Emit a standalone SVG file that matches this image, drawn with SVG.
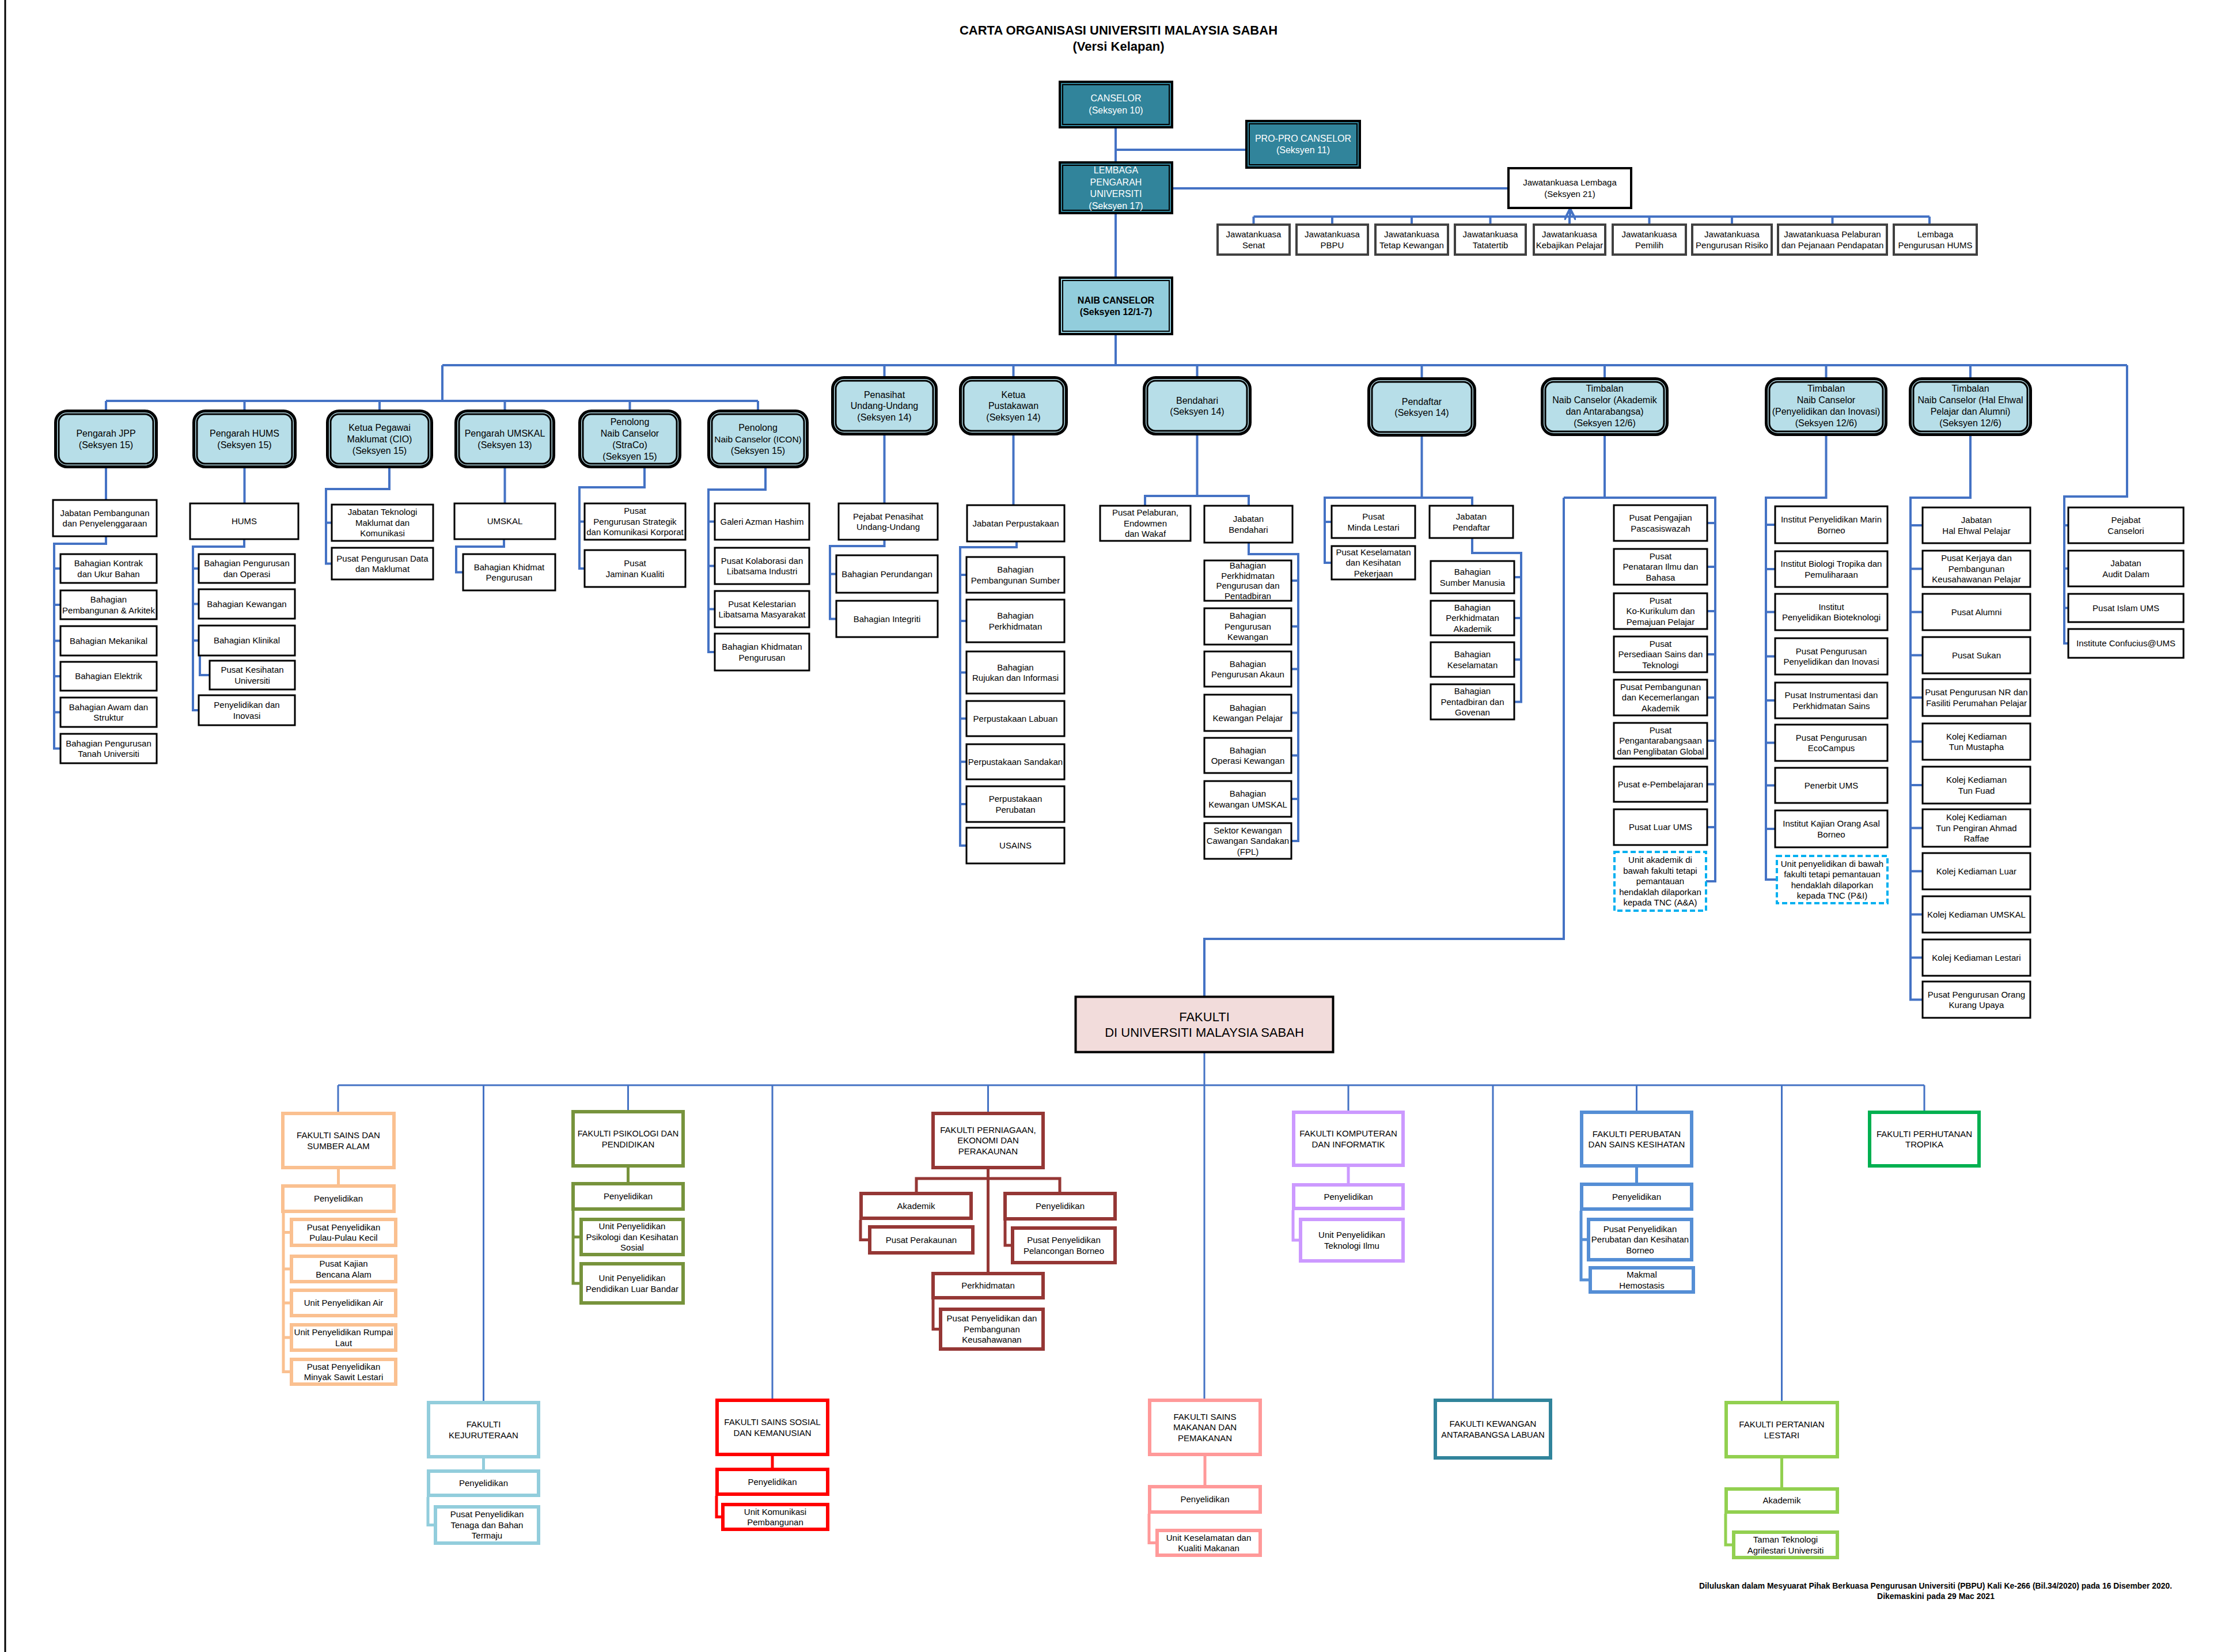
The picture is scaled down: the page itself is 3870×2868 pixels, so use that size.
<svg xmlns="http://www.w3.org/2000/svg" width="3870" height="2868" viewBox="0 0 3870 2868">
<defs>
<style>
.c{fill:none;stroke:#4472C4;stroke-width:4}
.cf{fill:none;stroke:#4472C4;stroke-width:3}
.b{fill:#fff;stroke:#000;stroke-width:3}
.bj{fill:#fff;stroke:#404040;stroke-width:4}
.dash{fill:#fff;stroke:#00B0F0;stroke-width:4;stroke-dasharray:9 5}
.t{font-family:"Liberation Sans",Arial,sans-serif;font-size:15px;text-anchor:middle;fill:#000}
.t16{font-family:"Liberation Sans",Arial,sans-serif;font-size:16px;text-anchor:middle;fill:#000}
.tw{font-family:"Liberation Sans",Arial,sans-serif;font-size:16px;text-anchor:middle;fill:#fff}
.tb{font-family:"Liberation Sans",Arial,sans-serif;font-size:16px;font-weight:bold;text-anchor:middle;fill:#000}
.l1o{fill:#B7DEE8;stroke:#000;stroke-width:5}
.l1i{fill:none;stroke:#000;stroke-width:3}
.topo{stroke:#000;stroke-width:4}
.topi{fill:none;stroke:#000;stroke-width:2}
.f{fill:#fff;stroke-width:6}
.ssa{stroke:#FAC090}.psi{stroke:#77933C}.fpe{stroke:#953735}.fki{stroke:#CC99FF}.fps{stroke:#558ED5}.fpt{stroke:#00B050}.fkj{stroke:#92CDDC}.fss{stroke:#FF0000}.fsm{stroke:#FF9999}.fkl{stroke:#31849B}.fpl{stroke:#92D050}
.fc{fill:none;stroke-width:5}
</style>
<marker id="arr" viewBox="0 0 10 10" refX="9" refY="5" markerWidth="5" markerHeight="5" orient="auto" markerUnits="strokeWidth">
<path d="M0,0 L10,5 L0,10" fill="none" stroke="#4472C4" stroke-width="2"/>
</marker>
</defs>
<rect x="0" y="0" width="3870" height="2868" fill="#fff"/>
<path d="M9,0V2868" stroke="#000" stroke-width="3"/>

<g id="title">
<text x="1942" y="60" style="font-family:'Liberation Sans',Arial,sans-serif;font-size:22px;font-weight:bold;text-anchor:middle">CARTA ORGANISASI UNIVERSITI MALAYSIA SABAH</text>
<text x="1942" y="88" style="font-family:'Liberation Sans',Arial,sans-serif;font-size:22px;font-weight:bold;text-anchor:middle">(Versi Kelapan)</text>
</g>

<g id="connectors">
<path class="c" d="M1937,223V280 M1937,260H2162 M2037,327H2619 M1937,372V480 M1937,582V634 M768,634H3693"/>
<path class="c" d="M2176.5,376H3350 M2176.5,376V390 M2313,376V390 M2451,376V390 M2587.5,376V390 M2725,376V390 M2863.5,376V390 M3007,376V390 M3181.5,376V390 M3350,376V390"/>
<path class="c" d="M2726,376V364" marker-end="url(#arr)"/>
<path class="c" d="M768,634V696 M184,696H1316 M184,696V711 M424.5,696V711 M659,696V711 M876.5,696V711 M1093.5,696V711 M1316,696V711"/>
<path class="c" d="M1535.5,634V653 M1759.5,634V653 M2078.5,634V653 M2468.5,634V655 M2786,634V655 M3170.5,634V655 M3421,634V655"/>
<path class="c" d="M184,813V868 M184,931V944H94V1299.5H105 M94,987H105 M94,1050H105 M94,1112.5H105 M94,1174H105 M94,1236.5H105"/>
<path class="c" d="M424.5,813V874 M424,936V949H335V1233H345 M335,987H345 M335,1048.5H345 M335,1112H345 M347,1138V1172H364"/>
<path class="c" d="M676,813V849H566V978.5H576 M566,907.5H576"/>
<path class="c" d="M876.5,813V874 M875,936V949H792V993.5H804"/>
<path class="c" d="M1119,813V846H1006V987H1015 M1006,905.5H1015"/>
<path class="c" d="M1329,813V850H1230V1132H1241 M1230,905.5H1241 M1230,982.5H1241 M1230,1057.5H1241"/>
<path class="c" d="M1535.5,756V874 M1535.5,937V948H1441V1074.5H1452 M1441,996.5H1452"/>
<path class="c" d="M1759.5,755V877 M1765,940V950H1667V1468H1678 M1667,998H1678 M1667,1078H1678 M1667,1167.5H1678 M1667,1247.5H1678 M1667,1322.5H1678 M1667,1396H1678"/>
<path class="c" d="M2078.5,756V861 M1988,878V861H2168V878 M2168,942V962H2254V1460H2242 M2254,1008H2242 M2254,1087.5H2242 M2254,1161.5H2242 M2254,1237.5H2242 M2254,1311.5H2242 M2254,1387H2242"/>
<path class="c" d="M2468.5,758V864 M2312,906H2300V864H2556V878 M2300,906V977H2312 M2556,934V960H2641V1218.5H2629 M2641,1002H2629 M2641,1073H2629 M2641,1145H2629"/>
<path class="c" d="M2786,757V864 M2715,864H2978V1530H2962 M2978,908H2964 M2978,984H2964 M2978,1061H2964 M2978,1136H2964 M2978,1211H2964 M2978,1286H2964 M2978,1361.5H2964 M2978,1436H2964 M2715,864V1630H2091V1729"/>
<path class="c" d="M3170.5,757V864H3066V1527H3085 M3066,911H3082 M3066,988H3082 M3066,1062.5H3082 M3066,1139.5H3082 M3066,1216H3082 M3066,1289.5H3082 M3066,1363.5H3082 M3066,1439H3082"/>
<path class="c" d="M3421,757V864H3317V1735.5H3338 M3317,912H3338 M3317,987.5H3338 M3317,1062.5H3338 M3317,1137.5H3338 M3317,1211H3338 M3317,1287.5H3338 M3317,1363H3338 M3317,1437.5H3338 M3317,1512.5H3338 M3317,1587.5H3338 M3317,1662.5H3338"/>
<path class="c" d="M3693,634V862H3584V1117H3591 M3584,912H3591 M3584,987H3591 M3584,1055.5H3591"/>
<path class="cf" d="M2091,1828V1884 M587,1884H3341 M587,1884V1930 M839.5,1884V2432 M1090.5,1884V1927 M1341,1884V2428 M1715.5,1884V1930 M2091,1884V2428 M2341,1884V1928 M2592,1884V2428 M2841.5,1884V1928 M3093.5,1884V2432 M3341,1884V1928"/>
<path class="fc ssa" d="M587.5,2030V2056 M492,2106V2381.5H503 M492,2139.5H503 M492,2203H503 M492,2262H503 M492,2322H503"/>
<path class="fc psi" d="M1090.5,2027V2052 M995,2102V2228H1006 M995,2147.5H1006"/>
<path class="fc fpe" d="M1715.5,2030V2208 M1591,2069V2046H1840V2069 M1494,2118V2152.5H1507 M1745,2119V2162H1755 M1620,2256V2307.5H1630"/>
<path class="fc fki" d="M2341,2026V2054 M2245,2101V2153H2255"/>
<path class="fc fps" d="M2841.5,2027V2053 M2745,2102V2222H2758 M2745,2152H2755"/>
<path class="fc fkj" d="M839.5,2532V2551 M743,2599V2647.5H753"/>
<path class="fc fss" d="M1341,2528V2548 M1244,2597V2633.5H1252"/>
<path class="fc fsm" d="M2092,2528V2578 M1995,2628V2678.5H2006"/>
<path class="fc fpl" d="M3093.5,2532V2582 M2996,2628V2682H3007"/>
</g>

<g id="canselor">
<rect class="topo" x="1840" y="142" width="195" height="79" fill="#31849B"/>
<rect class="topi" x="1845" y="147" width="185" height="69"/>
<text class="tw"><tspan x="1937.5" y="175.5">CANSELOR</tspan><tspan x="1937.5" y="196.5">(Seksyen 10)</tspan></text>
</g>
<g id="propro">
<rect class="topo" x="2164" y="210" width="197" height="81" fill="#31849B"/>
<rect class="topi" x="2169" y="215" width="187" height="71"/>
<text class="tw"><tspan x="2262.5" y="246.3">PRO-PRO CANSELOR</tspan><tspan x="2262.5" y="266.3">(Seksyen 11)</tspan></text>
</g>
<g id="lembaga">
<rect class="topo" x="1840" y="282" width="195" height="88" fill="#31849B"/>
<rect class="topi" x="1845" y="287" width="185" height="78"/>
<text class="tw"><tspan x="1937.5" y="301">LEMBAGA</tspan><tspan x="1937.5" y="321.5">PENGARAH</tspan><tspan x="1937.5" y="342">UNIVERSITI</tspan><tspan x="1937.5" y="362.5">(Seksyen 17)</tspan></text>
</g>
<g id="jk-lembaga">
<rect x="2619" y="292" width="213" height="69" fill="#fff" stroke="#000" stroke-width="4"/>
<text class="t"><tspan x="2725.5" y="322.2">Jawatankuasa Lembaga</tspan><tspan x="2725.5" y="341.6">(Seksyen 21)</tspan></text>
</g>
<g id="committees">
<rect class="bj" x="2114" y="390" width="125" height="52"/><text class="t"><tspan x="2176.5" y="412.2">Jawatankuasa</tspan><tspan x="2176.5" y="430.7">Senat</tspan></text>
<rect class="bj" x="2251" y="390" width="124" height="52"/><text class="t"><tspan x="2313" y="412.2">Jawatankuasa</tspan><tspan x="2313" y="430.7">PBPU</tspan></text>
<rect class="bj" x="2388" y="390" width="126" height="52"/><text class="t"><tspan x="2451" y="412.2">Jawatankuasa</tspan><tspan x="2451" y="430.7">Tetap Kewangan</tspan></text>
<rect class="bj" x="2526" y="390" width="123" height="52"/><text class="t"><tspan x="2587.5" y="412.2">Jawatankuasa</tspan><tspan x="2587.5" y="430.7">Tatatertib</tspan></text>
<rect class="bj" x="2663" y="390" width="124" height="52"/><text class="t"><tspan x="2725" y="412.2">Jawatankuasa</tspan><tspan x="2725" y="430.7">Kebajikan Pelajar</tspan></text>
<rect class="bj" x="2800" y="390" width="127" height="52"/><text class="t"><tspan x="2863.5" y="412.2">Jawatankuasa</tspan><tspan x="2863.5" y="430.7">Pemilih</tspan></text>
<rect class="bj" x="2938" y="390" width="138" height="52"/><text class="t"><tspan x="3007" y="412.2">Jawatankuasa</tspan><tspan x="3007" y="430.7">Pengurusan Risiko</tspan></text>
<rect class="bj" x="3087" y="390" width="189" height="52"/><text class="t"><tspan x="3181.5" y="412.2">Jawatankuasa Pelaburan</tspan><tspan x="3181.5" y="430.7">dan Pejanaan Pendapatan</tspan></text>
<rect class="bj" x="3288" y="390" width="144" height="52"/><text class="t"><tspan x="3360" y="412.2">Lembaga</tspan><tspan x="3360" y="430.7">Pengurusan  HUMS</tspan></text>
</g>
<g id="naib-canselor">
<rect class="topo" x="1840" y="482" width="195" height="98" fill="#92CDDC"/>
<rect class="topi" x="1845" y="487" width="185" height="88"/>
<text class="tb"><tspan x="1937.5" y="526.8">NAIB CANSELOR</tspan><tspan x="1937.5" y="546.8">(Seksyen 12/1-7)</tspan></text>
</g>

<g id="pengarah-jpp">
<rect class="l1o" x="96.5" y="713.5" width="175" height="97" rx="20"/><rect class="l1i" x="102" y="719" width="164" height="86" rx="14"/>
<text class="t16"><tspan x="184" y="757.8">Pengarah JPP</tspan><tspan x="184" y="777.8">(Seksyen 15)</tspan></text>
<rect class="b" x="92" y="868" width="180" height="63"/><text class="t"><tspan x="182" y="895.65">Jabatan Pembangunan</tspan><tspan x="182" y="914.15">dan Penyelenggaraan</tspan></text>
<rect class="b" x="105" y="962" width="167" height="50"/><text class="t"><tspan x="188.5" y="983.15">Bahagian Kontrak</tspan><tspan x="188.5" y="1001.65">dan Ukur Bahan</tspan></text>
<rect class="b" x="105" y="1025" width="167" height="50"/><text class="t"><tspan x="188.5" y="1046.15">Bahagian</tspan><tspan x="188.5" y="1064.65">Pembangunan &amp; Arkitek</tspan></text>
<rect class="b" x="105" y="1087" width="167" height="51"/><text class="t" x="188.5" y="1117.9">Bahagian Mekanikal</text>
<rect class="b" x="105" y="1149" width="167" height="50"/><text class="t" x="188.5" y="1179.4">Bahagian Elektrik</text>
<rect class="b" x="105" y="1211" width="167" height="51"/><text class="t"><tspan x="188.5" y="1232.65">Bahagian Awam dan</tspan><tspan x="188.5" y="1251.15">Struktur</tspan></text>
<rect class="b" x="105" y="1274" width="167" height="51"/><text class="t"><tspan x="188.5" y="1295.65">Bahagian Pengurusan</tspan><tspan x="188.5" y="1314.15">Tanah Universiti</tspan></text>
</g>

<g id="pengarah-hums">
<rect class="l1o" x="336.5" y="713.5" width="176" height="97" rx="20"/><rect class="l1i" x="342" y="719" width="165" height="86" rx="14"/>
<text class="t16"><tspan x="424.5" y="757.8">Pengarah HUMS</tspan><tspan x="424.5" y="777.8">(Seksyen 15)</tspan></text>
<rect class="b" x="330" y="874" width="188" height="62"/><text class="t" x="424" y="910.4">HUMS</text>
<rect class="b" x="345" y="962" width="167" height="50"/><text class="t"><tspan x="428.5" y="983.15">Bahagian Pengurusan</tspan><tspan x="428.5" y="1001.65">dan Operasi</tspan></text>
<rect class="b" x="345" y="1023" width="167" height="51"/><text class="t" x="428.5" y="1053.9">Bahagian Kewangan</text>
<rect class="b" x="345" y="1086" width="167" height="52"/><text class="t" x="428.5" y="1117.4">Bahagian Klinikal</text>
<rect class="b" x="364" y="1147" width="148" height="50"/><text class="t"><tspan x="438" y="1168.15">Pusat Kesihatan</tspan><tspan x="438" y="1186.65">Universiti</tspan></text>
<rect class="b" x="345" y="1207" width="167" height="52"/><text class="t"><tspan x="428.5" y="1229.15">Penyelidikan dan</tspan><tspan x="428.5" y="1247.65">Inovasi</tspan></text>
</g>

<g id="ketua-cio">
<rect class="l1o" x="568.5" y="713.5" width="181" height="97" rx="20"/><rect class="l1i" x="574" y="719" width="170" height="86" rx="14"/>
<text class="t16"><tspan x="659" y="747.8">Ketua Pegawai</tspan><tspan x="659" y="767.8">Maklumat (CIO)</tspan><tspan x="659" y="787.8">(Seksyen 15)</tspan></text>
<rect class="b" x="576" y="876" width="176" height="63"/><text class="t"><tspan x="664" y="894.4">Jabatan Teknologi</tspan><tspan x="664" y="912.9">Maklumat dan</tspan><tspan x="664" y="931.4">Komunikasi</tspan></text>
<rect class="b" x="576" y="951" width="176" height="55"/><text class="t"><tspan x="664" y="974.65">Pusat Pengurusan Data</tspan><tspan x="664" y="993.15">dan Maklumat</tspan></text>
</g>

<g id="pengarah-umskal">
<rect class="l1o" x="791.5" y="713.5" width="170" height="97" rx="20"/><rect class="l1i" x="797" y="719" width="159" height="86" rx="14"/>
<text class="t16"><tspan x="876.5" y="757.8">Pengarah UMSKAL</tspan><tspan x="876.5" y="777.8">(Seksyen 13)</tspan></text>
<rect class="b" x="789" y="874" width="175" height="62"/><text class="t" x="876.5" y="910.4">UMSKAL</text>
<rect class="b" x="804" y="962" width="160" height="63"/><text class="t"><tspan x="884" y="989.65">Bahagian Khidmat</tspan><tspan x="884" y="1008.15">Pengurusan</tspan></text>
</g>

<g id="tnc-straco">
<rect class="l1o" x="1006.5" y="713.5" width="174" height="97" rx="20"/><rect class="l1i" x="1012" y="719" width="163" height="86" rx="14"/>
<text class="t16"><tspan x="1093.5" y="737.8">Penolong</tspan><tspan x="1093.5" y="757.8">Naib Canselor</tspan><tspan x="1093.5" y="777.8">(StraCo)</tspan><tspan x="1093.5" y="797.8">(Seksyen 15)</tspan></text>
<rect class="b" x="1015" y="874" width="175" height="63"/><text class="t"><tspan x="1102.5" y="892.4">Pusat</tspan><tspan x="1102.5" y="910.9">Pengurusan Strategik</tspan><tspan x="1102.5" y="929.4">dan Komunikasi Korporat</tspan></text>
<rect class="b" x="1015" y="955" width="175" height="64"/><text class="t"><tspan x="1102.5" y="983.15">Pusat</tspan><tspan x="1102.5" y="1001.65">Jaminan Kualiti</tspan></text>
</g>

<g id="pnc-icon">
<rect class="l1o" x="1230.5" y="713.5" width="171" height="97" rx="20"/><rect class="l1i" x="1236" y="719" width="160" height="86" rx="14"/>
<text class="t16"><tspan x="1316" y="747.8">Penolong</tspan><tspan x="1316" y="767.8" style="font-size:15.5px">Naib Canselor (ICON)</tspan><tspan x="1316" y="787.8">(Seksyen 15)</tspan></text>
<rect class="b" x="1241" y="874" width="164" height="63"/><text class="t" x="1323" y="910.9">Galeri Azman Hashim</text>
<rect class="b" x="1241" y="951" width="164" height="63"/><text class="t"><tspan x="1323" y="978.65">Pusat Kolaborasi dan</tspan><tspan x="1323" y="997.15">Libatsama Industri</tspan></text>
<rect class="b" x="1241" y="1026" width="164" height="63"/><text class="t"><tspan x="1323" y="1053.65">Pusat Kelestarian</tspan><tspan x="1323" y="1072.15">Libatsama Masyarakat</tspan></text>
<rect class="b" x="1241" y="1100" width="164" height="64"/><text class="t"><tspan x="1323" y="1128.15">Bahagian Khidmatan</tspan><tspan x="1323" y="1146.65">Pengurusan</tspan></text>
</g>

<g id="penasihat">
<rect class="l1o" x="1445.5" y="655.5" width="180" height="98" rx="20"/><rect class="l1i" x="1451" y="661" width="169" height="87" rx="14"/>
<text class="t16"><tspan x="1535.5" y="690.8">Penasihat</tspan><tspan x="1535.5" y="710.3">Undang-Undang</tspan><tspan x="1535.5" y="729.8">(Seksyen 14)</tspan></text>
<rect class="b" x="1456" y="874" width="172" height="63"/><text class="t"><tspan x="1542" y="901.65">Pejabat Penasihat</tspan><tspan x="1542" y="920.15">Undang-Undang</tspan></text>
<rect class="b" x="1452" y="964" width="176" height="65"/><text class="t" x="1540" y="1001.9">Bahagian Perundangan</text>
<rect class="b" x="1452" y="1043" width="176" height="63"/><text class="t" x="1540" y="1079.9">Bahagian Integriti</text>
</g>

<g id="pustakawan">
<rect class="l1o" x="1667.5" y="655.5" width="184" height="98" rx="20"/><rect class="l1i" x="1673" y="661" width="173" height="87" rx="14"/>
<text class="t16"><tspan x="1759.5" y="690.8">Ketua</tspan><tspan x="1759.5" y="710.3">Pustakawan</tspan><tspan x="1759.5" y="729.8">(Seksyen 14)</tspan></text>
<rect class="b" x="1679" y="877" width="169" height="63"/><text class="t" x="1763.5" y="913.9">Jabatan Perpustakaan</text>
<rect class="b" x="1678" y="967" width="170" height="62"/><text class="t"><tspan x="1763" y="994.15">Bahagian</tspan><tspan x="1763" y="1012.65">Pembangunan Sumber</tspan></text>
<rect class="b" x="1678" y="1041" width="170" height="74"/><text class="t"><tspan x="1763" y="1074.15">Bahagian</tspan><tspan x="1763" y="1092.65">Perkhidmatan</tspan></text>
<rect class="b" x="1678" y="1131" width="170" height="73"/><text class="t"><tspan x="1763" y="1163.65">Bahagian</tspan><tspan x="1763" y="1182.15">Rujukan dan Informasi</tspan></text>
<rect class="b" x="1678" y="1217" width="170" height="61"/><text class="t" x="1763" y="1252.9">Perpustakaan Labuan</text>
<rect class="b" x="1678" y="1292" width="170" height="61"/><text class="t" x="1763" y="1327.9">Perpustakaan Sandakan</text>
<rect class="b" x="1678" y="1365" width="170" height="62"/><text class="t"><tspan x="1763" y="1392.15">Perpustakaan</tspan><tspan x="1763" y="1410.65">Perubatan</tspan></text>
<rect class="b" x="1678" y="1437" width="170" height="62"/><text class="t" x="1763" y="1473.4">USAINS</text>
</g>

<g id="bendahari">
<rect class="l1o" x="1986.5" y="655.5" width="184" height="98" rx="20"/><rect class="l1i" x="1992" y="661" width="173" height="87" rx="14"/>
<text class="t16"><tspan x="2078.5" y="700.5">Bendahari</tspan><tspan x="2078.5" y="720">(Seksyen 14)</tspan></text>
<rect class="b" x="1910" y="878" width="157" height="61"/><text class="t"><tspan x="1988.5" y="895.4">Pusat Pelaburan,</tspan><tspan x="1988.5" y="913.9">Endowmen</tspan><tspan x="1988.5" y="932.4">dan Wakaf</tspan></text>
<rect class="b" x="2091" y="878" width="153" height="64"/><text class="t"><tspan x="2167.5" y="906.15">Jabatan</tspan><tspan x="2167.5" y="924.65">Bendahari</tspan></text>
<rect class="b" x="2091" y="973" width="151" height="70"/><text class="t"><tspan x="2166.5" y="987.15">Bahagian</tspan><tspan x="2166.5" y="1004.65">Perkhidmatan</tspan><tspan x="2166.5" y="1022.15">Pengurusan dan</tspan><tspan x="2166.5" y="1039.65">Pentadbiran</tspan></text>
<rect class="b" x="2091" y="1056" width="151" height="63"/><text class="t"><tspan x="2166.5" y="1074.4">Bahagian</tspan><tspan x="2166.5" y="1092.9">Pengurusan</tspan><tspan x="2166.5" y="1111.4">Kewangan</tspan></text>
<rect class="b" x="2091" y="1131" width="151" height="61"/><text class="t"><tspan x="2166.5" y="1157.65">Bahagian</tspan><tspan x="2166.5" y="1176.15">Pengurusan Akaun</tspan></text>
<rect class="b" x="2091" y="1206" width="151" height="63"/><text class="t"><tspan x="2166.5" y="1233.65">Bahagian</tspan><tspan x="2166.5" y="1252.15">Kewangan Pelajar</tspan></text>
<rect class="b" x="2091" y="1281" width="151" height="61"/><text class="t"><tspan x="2166.5" y="1307.65">Bahagian</tspan><tspan x="2166.5" y="1326.15">Operasi Kewangan</tspan></text>
<rect class="b" x="2091" y="1356" width="151" height="62"/><text class="t"><tspan x="2166.5" y="1383.15">Bahagian</tspan><tspan x="2166.5" y="1401.65">Kewangan UMSKAL</tspan></text>
<rect class="b" x="2091" y="1429" width="151" height="62"/><text class="t"><tspan x="2166.5" y="1446.9">Sektor Kewangan</tspan><tspan x="2166.5" y="1465.4">Cawangan Sandakan</tspan><tspan x="2166.5" y="1483.9">(FPL)</tspan></text>
</g>

<g id="pendaftar">
<rect class="l1o" x="2376.5" y="657.5" width="184" height="98" rx="20"/><rect class="l1i" x="2382" y="663" width="173" height="87" rx="14"/>
<text class="t16"><tspan x="2468.5" y="702.5">Pendaftar</tspan><tspan x="2468.5" y="722">(Seksyen 14)</tspan></text>
<rect class="b" x="2312" y="878" width="145" height="56"/><text class="t"><tspan x="2384.5" y="902.15">Pusat</tspan><tspan x="2384.5" y="920.65">Minda Lestari</tspan></text>
<rect class="b" x="2312" y="948" width="145" height="58"/><text class="t"><tspan x="2384.5" y="963.9">Pusat Keselamatan</tspan><tspan x="2384.5" y="982.4">dan Kesihatan</tspan><tspan x="2384.5" y="1000.9">Pekerjaan</tspan></text>
<rect class="b" x="2482" y="878" width="145" height="56"/><text class="t"><tspan x="2554.5" y="902.15">Jabatan</tspan><tspan x="2554.5" y="920.65">Pendaftar</tspan></text>
<rect class="b" x="2484" y="974" width="145" height="56"/><text class="t"><tspan x="2556.5" y="998.15">Bahagian</tspan><tspan x="2556.5" y="1016.65">Sumber Manusia</tspan></text>
<rect class="b" x="2484" y="1043" width="145" height="60"/><text class="t"><tspan x="2556.5" y="1059.9">Bahagian</tspan><tspan x="2556.5" y="1078.4">Perkhidmatan</tspan><tspan x="2556.5" y="1096.9">Akademik</tspan></text>
<rect class="b" x="2484" y="1115" width="145" height="60"/><text class="t"><tspan x="2556.5" y="1141.15">Bahagian</tspan><tspan x="2556.5" y="1159.65">Keselamatan</tspan></text>
<rect class="b" x="2484" y="1188" width="145" height="61"/><text class="t"><tspan x="2556.5" y="1205.4">Bahagian</tspan><tspan x="2556.5" y="1223.9">Pentadbiran dan</tspan><tspan x="2556.5" y="1242.4">Govenan</tspan></text>
</g>

<g id="tnc-aa">
<rect class="l1o" x="2677.5" y="657.5" width="217" height="97" rx="20"/><rect class="l1i" x="2683" y="663" width="206" height="86" rx="14"/>
<text class="t16"><tspan x="2786" y="680.3">Timbalan</tspan><tspan x="2786" y="700.3">Naib Canselor (Akademik</tspan><tspan x="2786" y="720.3">dan Antarabangsa)</tspan><tspan x="2786" y="740.3">(Seksyen 12/6)</tspan></text>
<rect class="b" x="2802" y="877" width="162" height="62"/><text class="t"><tspan x="2883" y="904.15">Pusat Pengajian</tspan><tspan x="2883" y="922.65">Pascasiswazah</tspan></text>
<rect class="b" x="2802" y="953" width="162" height="62"/><text class="t"><tspan x="2883" y="970.9">Pusat</tspan><tspan x="2883" y="989.4">Penataran Ilmu dan</tspan><tspan x="2883" y="1007.9">Bahasa</tspan></text>
<rect class="b" x="2802" y="1030" width="162" height="62"/><text class="t"><tspan x="2883" y="1047.9">Pusat</tspan><tspan x="2883" y="1066.4">Ko-Kurikulum dan</tspan><tspan x="2883" y="1084.9">Pemajuan Pelajar</tspan></text>
<rect class="b" x="2802" y="1105" width="162" height="62"/><text class="t"><tspan x="2883" y="1122.9">Pusat</tspan><tspan x="2883" y="1141.4">Persediaan Sains dan</tspan><tspan x="2883" y="1159.9">Teknologi</tspan></text>
<rect class="b" x="2802" y="1180" width="162" height="62"/><text class="t"><tspan x="2883" y="1197.9">Pusat Pembangunan</tspan><tspan x="2883" y="1216.4">dan Kecemerlangan</tspan><tspan x="2883" y="1234.9">Akademik</tspan></text>
<rect class="b" x="2802" y="1255" width="162" height="62"/><text class="t"><tspan x="2883" y="1272.9">Pusat</tspan><tspan x="2883" y="1291.4">Pengantarabangsaan</tspan><tspan x="2883" y="1309.9" style="font-size:14.5px">dan Penglibatan Global</tspan></text>
<rect class="b" x="2802" y="1331" width="162" height="61"/><text class="t" x="2883" y="1366.9">Pusat e-Pembelajaran</text>
<rect class="b" x="2802" y="1405" width="162" height="62"/><text class="t" x="2883" y="1441.4">Pusat Luar UMS</text>
<rect class="dash" x="2803" y="1479" width="159" height="102"/><text class="t"><tspan x="2882.5" y="1498.4">Unit akademik di</tspan><tspan x="2882.5" y="1516.9">bawah fakulti tetapi</tspan><tspan x="2882.5" y="1535.4">pemantauan</tspan><tspan x="2882.5" y="1553.9">hendaklah dilaporkan</tspan><tspan x="2882.5" y="1572.4">kepada TNC (A&amp;A)</tspan></text>
</g>

<g id="tnc-pi">
<rect class="l1o" x="3066.5" y="657.5" width="208" height="97" rx="20"/><rect class="l1i" x="3072" y="663" width="197" height="86" rx="14"/>
<text class="t16"><tspan x="3170.5" y="680.3">Timbalan</tspan><tspan x="3170.5" y="700.3">Naib Canselor</tspan><tspan x="3170.5" y="720.3">(Penyelidikan dan Inovasi)</tspan><tspan x="3170.5" y="740.3">(Seksyen 12/6)</tspan></text>
<rect class="b" x="3082" y="879" width="195" height="64"/><text class="t"><tspan x="3179.5" y="907.15">Institut Penyelidikan Marin</tspan><tspan x="3179.5" y="925.65">Borneo</tspan></text>
<rect class="b" x="3082" y="957" width="195" height="62"/><text class="t"><tspan x="3179.5" y="984.15">Institut Biologi Tropika dan</tspan><tspan x="3179.5" y="1002.65">Pemuliharaan</tspan></text>
<rect class="b" x="3082" y="1031" width="195" height="63"/><text class="t"><tspan x="3179.5" y="1058.65">Institut</tspan><tspan x="3179.5" y="1077.15">Penyelidikan Bioteknologi</tspan></text>
<rect class="b" x="3082" y="1108" width="195" height="63"/><text class="t"><tspan x="3179.5" y="1135.65">Pusat Pengurusan</tspan><tspan x="3179.5" y="1154.15">Penyelidikan dan Inovasi</tspan></text>
<rect class="b" x="3082" y="1185" width="195" height="62"/><text class="t"><tspan x="3179.5" y="1212.15">Pusat Instrumentasi dan</tspan><tspan x="3179.5" y="1230.65">Perkhidmatan Sains</tspan></text>
<rect class="b" x="3082" y="1258" width="195" height="63"/><text class="t"><tspan x="3179.5" y="1285.65">Pusat Pengurusan</tspan><tspan x="3179.5" y="1304.15">EcoCampus</tspan></text>
<rect class="b" x="3082" y="1333" width="195" height="61"/><text class="t" x="3179.5" y="1368.9">Penerbit UMS</text>
<rect class="b" x="3082" y="1407" width="195" height="64"/><text class="t"><tspan x="3179.5" y="1435.15">Institut Kajian Orang Asal</tspan><tspan x="3179.5" y="1453.65">Borneo</tspan></text>
<rect class="dash" x="3085" y="1486" width="192" height="82"/><text class="t"><tspan x="3181" y="1504.65">Unit penyelidikan di bawah</tspan><tspan x="3181" y="1523.15">fakulti tetapi pemantauan</tspan><tspan x="3181" y="1541.65">hendaklah dilaporkan</tspan><tspan x="3181" y="1560.15">kepada TNC (P&amp;I)</tspan></text>
</g>

<g id="tnc-hep">
<rect class="l1o" x="3316.5" y="657.5" width="209" height="97" rx="20"/><rect class="l1i" x="3322" y="663" width="198" height="86" rx="14"/>
<text class="t16"><tspan x="3421" y="680.3">Timbalan</tspan><tspan x="3421" y="700.3">Naib Canselor (Hal Ehwal</tspan><tspan x="3421" y="720.3">Pelajar dan Alumni)</tspan><tspan x="3421" y="740.3">(Seksyen 12/6)</tspan></text>
<rect class="b" x="3338" y="881" width="187" height="62"/><text class="t"><tspan x="3431.5" y="908.15">Jabatan</tspan><tspan x="3431.5" y="926.65">Hal Ehwal Pelajar</tspan></text>
<rect class="b" x="3338" y="956" width="187" height="63"/><text class="t"><tspan x="3431.5" y="974.4">Pusat Kerjaya dan</tspan><tspan x="3431.5" y="992.9">Pembangunan</tspan><tspan x="3431.5" y="1011.4">Keusahawanan Pelajar</tspan></text>
<rect class="b" x="3338" y="1031" width="187" height="63"/><text class="t" x="3431.5" y="1067.9">Pusat Alumni</text>
<rect class="b" x="3338" y="1106" width="187" height="63"/><text class="t" x="3431.5" y="1142.9">Pusat Sukan</text>
<rect class="b" x="3338" y="1179" width="187" height="64"/><text class="t"><tspan x="3431.5" y="1207.15">Pusat Pengurusan NR dan</tspan><tspan x="3431.5" y="1225.65">Fasiliti Perumahan Pelajar</tspan></text>
<rect class="b" x="3338" y="1256" width="187" height="63"/><text class="t"><tspan x="3431.5" y="1283.65">Kolej Kediaman</tspan><tspan x="3431.5" y="1302.15">Tun Mustapha</tspan></text>
<rect class="b" x="3338" y="1331" width="187" height="64"/><text class="t"><tspan x="3431.5" y="1359.15">Kolej Kediaman</tspan><tspan x="3431.5" y="1377.65">Tun Fuad</tspan></text>
<rect class="b" x="3338" y="1405" width="187" height="65"/><text class="t"><tspan x="3431.5" y="1424.4">Kolej Kediaman</tspan><tspan x="3431.5" y="1442.9">Tun Pengiran Ahmad</tspan><tspan x="3431.5" y="1461.4">Raffae</tspan></text>
<rect class="b" x="3338" y="1481" width="187" height="63"/><text class="t" x="3431.5" y="1517.9">Kolej Kediaman Luar</text>
<rect class="b" x="3338" y="1556" width="187" height="63"/><text class="t" x="3431.5" y="1592.9">Kolej Kediaman UMSKAL</text>
<rect class="b" x="3338" y="1631" width="187" height="63"/><text class="t" x="3431.5" y="1667.9">Kolej Kediaman Lestari</text>
<rect class="b" x="3338" y="1704" width="187" height="63"/><text class="t"><tspan x="3431.5" y="1731.65">Pusat Pengurusan Orang</tspan><tspan x="3431.5" y="1750.15">Kurang Upaya</tspan></text>
</g>

<g id="pejabat-nc">
<rect class="b" x="3591" y="881" width="200" height="62"/><text class="t"><tspan x="3691" y="908.15">Pejabat</tspan><tspan x="3691" y="926.65">Canselori</tspan></text>
<rect class="b" x="3591" y="956" width="200" height="62"/><text class="t"><tspan x="3691" y="983.15">Jabatan</tspan><tspan x="3691" y="1001.65">Audit Dalam</tspan></text>
<rect class="b" x="3591" y="1031" width="200" height="49"/><text class="t" x="3691" y="1060.9">Pusat Islam UMS</text>
<rect class="b" x="3591" y="1092" width="200" height="50"/><text class="t" x="3691" y="1122.4">Institute Confucius@UMS</text>
</g>

<g id="fakulti">
<rect x="1867.5" y="1730.5" width="447" height="96" fill="#F2DCDB" stroke="#000" stroke-width="4"/>
<text style="font-family:'Liberation Sans',Arial,sans-serif;font-size:22px;text-anchor:middle"><tspan x="2091" y="1772.7">FAKULTI</tspan><tspan x="2091" y="1800">DI UNIVERSITI MALAYSIA SABAH</tspan></text>
</g>

<g id="f-ssa">
<rect class="f ssa" x="491" y="1933" width="193" height="94"/><text class="t"><tspan x="587.5" y="1976.15">FAKULTI SAINS DAN</tspan><tspan x="587.5" y="1994.65">SUMBER ALAM</tspan></text>
<rect class="f ssa" x="491" y="2059" width="193" height="44"/><text class="t" x="587.5" y="2086.4">Penyelidikan</text>
<rect class="f ssa" x="506" y="2117" width="181" height="45"/><text class="t"><tspan x="596.5" y="2135.65">Pusat Penyelidikan</tspan><tspan x="596.5" y="2154.15">Pulau-Pulau Kecil</tspan></text>
<rect class="f ssa" x="506" y="2181" width="181" height="44"/><text class="t"><tspan x="596.5" y="2199.15">Pusat Kajian</tspan><tspan x="596.5" y="2217.65">Bencana Alam</tspan></text>
<rect class="f ssa" x="506" y="2240" width="181" height="44"/><text class="t" x="596.5" y="2267.4">Unit Penyelidikan Air</text>
<rect class="f ssa" x="506" y="2300" width="181" height="44"/><text class="t"><tspan x="596.5" y="2318.15">Unit Penyelidikan Rumpai</tspan><tspan x="596.5" y="2336.65">Laut</tspan></text>
<rect class="f ssa" x="506" y="2360" width="181" height="43"/><text class="t"><tspan x="596.5" y="2377.65">Pusat Penyelidikan</tspan><tspan x="596.5" y="2396.15">Minyak Sawit Lestari</tspan></text>
</g>

<g id="f-psikologi">
<rect class="f psi" x="995" y="1930" width="191" height="94"/><text class="t"><tspan x="1090.5" y="1973.15" style="font-size:14.5px">FAKULTI PSIKOLOGI DAN</tspan><tspan x="1090.5" y="1991.65">PENDIDIKAN</tspan></text>
<rect class="f psi" x="995" y="2055" width="191" height="44"/><text class="t" x="1090.5" y="2082.4">Penyelidikan</text>
<rect class="f psi" x="1009" y="2117" width="177" height="61"/><text class="t"><tspan x="1097.5" y="2134.4">Unit Penyelidikan</tspan><tspan x="1097.5" y="2152.9">Psikologi dan Kesihatan</tspan><tspan x="1097.5" y="2171.4">Sosial</tspan></text>
<rect class="f psi" x="1009" y="2194" width="177" height="68"/><text class="t"><tspan x="1097.5" y="2224.15">Unit Penyelidikan</tspan><tspan x="1097.5" y="2242.65">Pendidikan Luar Bandar</tspan></text>
</g>

<g id="f-perniagaan">
<rect class="f fpe" x="1620" y="1933" width="191" height="94"/><text class="t"><tspan x="1715.5" y="1966.9">FAKULTI PERNIAGAAN,</tspan><tspan x="1715.5" y="1985.4">EKONOMI DAN</tspan><tspan x="1715.5" y="2003.9">PERAKAUNAN</tspan></text>
<rect class="f fpe" x="1495" y="2072" width="191" height="43"/><text class="t" x="1590.5" y="2098.9">Akademik</text>
<rect class="f fpe" x="1510" y="2130" width="179" height="45"/><text class="t" x="1599.5" y="2157.9">Pusat Perakaunan</text>
<rect class="f fpe" x="1745" y="2072" width="191" height="44"/><text class="t" x="1840.5" y="2099.4">Penyelidikan</text>
<rect class="f fpe" x="1758" y="2132" width="178" height="60"/><text class="t"><tspan x="1847" y="2158.15">Pusat Penyelidikan</tspan><tspan x="1847" y="2176.65">Pelancongan Borneo</tspan></text>
<rect class="f fpe" x="1620" y="2211" width="191" height="42"/><text class="t" x="1715.5" y="2237.4">Perkhidmatan</text>
<rect class="f fpe" x="1633" y="2273" width="178" height="69"/><text class="t"><tspan x="1722" y="2294.4">Pusat Penyelidikan dan</tspan><tspan x="1722" y="2312.9">Pembangunan</tspan><tspan x="1722" y="2331.4">Keusahawanan</tspan></text>
</g>

<g id="f-komputeran">
<rect class="f fki" x="2246" y="1931" width="190" height="92"/><text class="t"><tspan x="2341" y="1973.15">FAKULTI KOMPUTERAN</tspan><tspan x="2341" y="1991.65">DAN INFORMATIK</tspan></text>
<rect class="f fki" x="2246" y="2057" width="190" height="41"/><text class="t" x="2341" y="2082.9">Penyelidikan</text>
<rect class="f fki" x="2258" y="2117" width="178" height="72"/><text class="t"><tspan x="2347" y="2149.15">Unit Penyelidikan</tspan><tspan x="2347" y="2167.65">Teknologi Ilmu</tspan></text>
</g>

<g id="f-perubatan">
<rect class="f fps" x="2746" y="1931" width="191" height="93"/><text class="t"><tspan x="2841.5" y="1973.65">FAKULTI PERUBATAN</tspan><tspan x="2841.5" y="1992.15">DAN SAINS KESIHATAN</tspan></text>
<rect class="f fps" x="2746" y="2056" width="191" height="43"/><text class="t" x="2841.5" y="2082.9">Penyelidikan</text>
<rect class="f fps" x="2758" y="2117" width="179" height="70"/><text class="t"><tspan x="2847.5" y="2138.9">Pusat Penyelidikan</tspan><tspan x="2847.5" y="2157.4">Perubatan dan Kesihatan</tspan><tspan x="2847.5" y="2175.9">Borneo</tspan></text>
<rect class="f fps" x="2761" y="2201" width="179" height="42"/><text class="t"><tspan x="2850.5" y="2218.15">Makmal</tspan><tspan x="2850.5" y="2236.65">Hemostasis</tspan></text>
</g>

<g id="f-perhutanan">
<rect class="f fpt" x="3246" y="1931" width="190" height="93"/><text class="t"><tspan x="3341" y="1973.65">FAKULTI PERHUTANAN</tspan><tspan x="3341" y="1992.15">TROPIKA</tspan></text>
</g>

<g id="f-kejuruteraan">
<rect class="f fkj" x="744" y="2435" width="191" height="94"/><text class="t"><tspan x="839.5" y="2478.15">FAKULTI</tspan><tspan x="839.5" y="2496.65">KEJURUTERAAN</tspan></text>
<rect class="f fkj" x="744" y="2554" width="191" height="42"/><text class="t" x="839.5" y="2580.4">Penyelidikan</text>
<rect class="f fkj" x="756" y="2616" width="179" height="63"/><text class="t"><tspan x="845.5" y="2634.4">Pusat Penyelidikan</tspan><tspan x="845.5" y="2652.9">Tenaga dan Bahan</tspan><tspan x="845.5" y="2671.4">Termaju</tspan></text>
</g>

<g id="f-sains-sosial">
<rect class="f fss" x="1245" y="2431" width="192" height="94"/><text class="t"><tspan x="1341" y="2474.15">FAKULTI SAINS SOSIAL</tspan><tspan x="1341" y="2492.65">DAN KEMANUSIAN</tspan></text>
<rect class="f fss" x="1245" y="2551" width="192" height="43"/><text class="t" x="1341" y="2577.9">Penyelidikan</text>
<rect class="f fss" x="1255" y="2612" width="182" height="43"/><text class="t"><tspan x="1346" y="2629.65">Unit Komunikasi</tspan><tspan x="1346" y="2648.15">Pembangunan</tspan></text>
</g>

<g id="f-sains-makanan">
<rect class="f fsm" x="1996" y="2431" width="192" height="94"/><text class="t"><tspan x="2092" y="2464.9">FAKULTI SAINS</tspan><tspan x="2092" y="2483.4">MAKANAN DAN</tspan><tspan x="2092" y="2501.9">PEMAKANAN</tspan></text>
<rect class="f fsm" x="1996" y="2581" width="192" height="44"/><text class="t" x="2092" y="2608.4">Penyelidikan</text>
<rect class="f fsm" x="2009" y="2657" width="179" height="43"/><text class="t"><tspan x="2098.5" y="2674.65">Unit Keselamatan dan</tspan><tspan x="2098.5" y="2693.15">Kualiti Makanan</tspan></text>
</g>

<g id="f-kewangan-labuan">
<rect class="f fkl" x="2492" y="2431" width="200" height="100"/><text class="t"><tspan x="2592" y="2477.15">FAKULTI KEWANGAN</tspan><tspan x="2592" y="2495.65" style="font-size:14.5px">ANTARABANGSA LABUAN</tspan></text>
</g>

<g id="f-pertanian">
<rect class="f fpl" x="2997" y="2435" width="193" height="94"/><text class="t"><tspan x="3093.5" y="2478.15">FAKULTI PERTANIAN</tspan><tspan x="3093.5" y="2496.65">LESTARI</tspan></text>
<rect class="f fpl" x="2997" y="2585" width="193" height="40"/><text class="t" x="3093.5" y="2610.4">Akademik</text>
<rect class="f fpl" x="3010" y="2660" width="180" height="44"/><text class="t"><tspan x="3100" y="2678.15">Taman Teknologi</tspan><tspan x="3100" y="2696.65">Agrilestari Universiti</tspan></text>
</g>

<g id="footer">
<text x="3360.5" y="2758" textLength="821" lengthAdjust="spacingAndGlyphs" style="font-family:'Liberation Sans',Arial,sans-serif;font-size:14px;font-weight:bold;text-anchor:middle">Diluluskan dalam Mesyuarat Pihak Berkuasa Pengurusan Universiti (PBPU) Kali Ke-266 (Bil.34/2020) pada 16 Disember 2020.</text>
<text x="3361" y="2776" style="font-family:'Liberation Sans',Arial,sans-serif;font-size:14px;font-weight:bold;text-anchor:middle">Dikemaskini pada 29 Mac 2021</text>
</g>
</svg>
